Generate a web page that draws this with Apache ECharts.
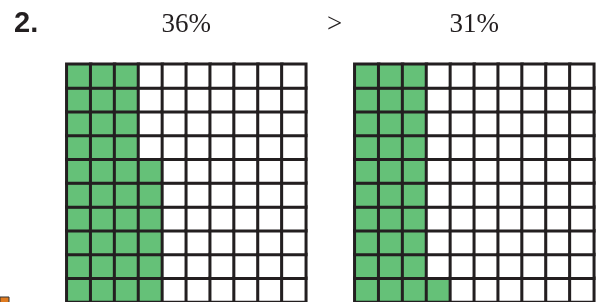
<!DOCTYPE html>
<html>
<head>
<meta charset="utf-8">
<script src="https://cdn.jsdelivr.net/npm/echarts@6/dist/echarts.min.js"></script>
<style>html,body{margin:0;padding:0;background:#fff}#c{width:597px;height:302px}</style>
</head>
<body>
<div id="c"></div>
<script>
// Data
const problemNumber = '2.';
const percentLabels = ['36%', '31%'];
const comparison = '>';
const gridCols = ['0','1','2','3','4','5','6','7','8','9'];
const gridRows = ['0','1','2','3','4','5','6','7','8','9']; // row 0 = bottom
// shaded cells per column, counted from the bottom
const leftShadedPerColumn = [10, 10, 10, 6, 0, 0, 0, 0, 0, 0];
const rightShadedPerColumn = [10, 10, 10, 1, 0, 0, 0, 0, 0, 0];

function buildCells(perCol) {
  const out = [];
  for (let c = 0; c < gridCols.length; c++) {
    for (let r = 0; r < gridRows.length; r++) {
      out.push([c, r, r < perCol[c] ? 1 : 0]);
    }
  }
  return out;
}

const GREEN = '#65c178';
const LINE = '#231f20';
const cell = 23.9;
const gridLefts = [66.8, 354.8];
const gridTop = 64.2;

const chart = echarts.init(document.getElementById('c'), null, {renderer: 'canvas'});

const grids = gridLefts.map(l => ({left: l, top: gridTop, width: cell * 10, height: cell * 10}));
const xAxes = gridLefts.map((l, i) => ({type: 'category', gridIndex: i, data: gridCols, show: false}));
const yAxes = gridLefts.map((l, i) => ({type: 'category', gridIndex: i, data: gridRows, show: false}));
const series = [leftShadedPerColumn, rightShadedPerColumn].map((pc, i) => ({
  type: 'heatmap',
  xAxisIndex: i,
  yAxisIndex: i,
  data: buildCells(pc),
  itemStyle: {borderColor: LINE, borderWidth: 3},
  emphasis: {disabled: true},
  animation: false
}));

const centers = gridLefts.map(l => l + cell * 5);
const serifFont = '27px "Liberation Serif", serif';
const graphic = [
  {type: 'text', left: 14, top: 9, style: {text: problemNumber, font: 'bold 29px "Liberation Sans", Arial, sans-serif', fill: '#231f20'}},
  {type: 'text', x: centers[0], y: 25, style: {text: percentLabels[0], font: serifFont, fill: '#231f20', align: 'center', verticalAlign: 'middle'}},
  {type: 'text', x: centers[1], y: 25, style: {text: percentLabels[1], font: serifFont, fill: '#231f20', align: 'center', verticalAlign: 'middle'}},
  {type: 'text', x: 334.5, y: 25, style: {text: comparison, font: serifFont, fill: '#231f20', align: 'center', verticalAlign: 'middle'}},
  {type: 'rect', shape: {x: 0, y: 297, width: 9, height: 6}, style: {fill: '#e07b20', stroke: '#333', lineWidth: 1}}
];

chart.setOption({
  animation: false,
  grid: grids,
  xAxis: xAxes,
  yAxis: yAxes,
  visualMap: {
    type: 'piecewise',
    show: false,
    seriesIndex: [0, 1],
    dimension: 2,
    pieces: [{value: 1, color: GREEN}, {value: 0, color: '#ffffff'}]
  },
  series: series,
  graphic: graphic
});
</script>
</body>
</html>
